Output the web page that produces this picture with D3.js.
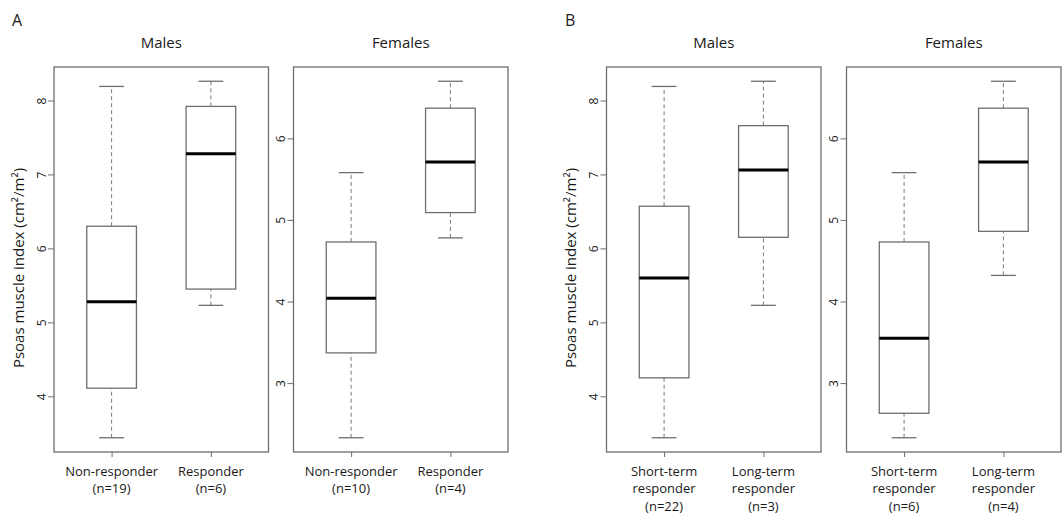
<!DOCTYPE html>
<html>
<head>
<meta charset="utf-8">
<script src="https://cdn.jsdelivr.net/npm/d3@7"></script>
<style>
  body { margin: 0; background: #fff; }
  svg text { font-family: "Open Sans", "Noto Sans", sans-serif; fill: #1a1a1a; }
</style>
</head>
<body>
<div class="chart"></div>
<script>
var width = 1062,
    height = 515;

// box stats: [lower whisker, Q1, median, Q3, upper whisker]
var labelsAMales = [["Non-responder", "(n=19)"], ["Responder", "(n=6)"]];
var statsAMales = [[3.44, 4.11, 5.28, 6.30, 8.19], [5.23, 5.45, 7.28, 7.92, 8.26]];

var labelsAFemales = [["Non-responder", "(n=10)"], ["Responder", "(n=4)"]];
var statsAFemales = [[2.33, 3.37, 4.04, 4.73, 5.58], [4.78, 5.09, 5.71, 6.37, 6.70]];

var labelsBMales = [["Short-term", "responder", "(n=22)"], ["Long-term", "responder", "(n=3)"]];
var statsBMales = [[3.44, 4.25, 5.60, 6.57, 8.19], [5.23, 6.15, 7.06, 7.66, 8.26]];

var labelsBFemales = [["Short-term", "responder", "(n=6)"], ["Long-term", "responder", "(n=4)"]];
var statsBFemales = [[2.33, 2.63, 3.55, 4.73, 5.58], [4.32, 4.86, 5.71, 6.37, 6.70]];

var ticksMales = [4, 5, 6, 7, 8];
var ticksFemales = [3, 4, 5, 6];

var titles = ["Males", "Females", "Males", "Females"];
var panelLetters = ["A", "B"];
var yTitle = "Psoas muscle index (cm\u00b2/m\u00b2)";

var svg = d3.select(".chart").append("svg")
    .attr("width", width)
    .attr("height", height);

var plotTop = 67, plotBottom = 452, frameW = 214.5;

var panels = [
  {left: 54,    stats: statsAMales,    labels: labelsAMales,    ticks: ticksMales,   title: titles[0], ylab: true},
  {left: 293.5, stats: statsAFemales,  labels: labelsAFemales,  ticks: ticksFemales, title: titles[1], ylab: false},
  {left: 606.5, stats: statsBMales,    labels: labelsBMales,    ticks: ticksMales,   title: titles[2], ylab: true},
  {left: 846.5, stats: statsBFemales,  labels: labelsBFemales,  ticks: ticksFemales, title: titles[3], ylab: false}
];

// panel letters
svg.selectAll(".letter")
  .data(panelLetters)
  .enter().append("text")
    .attr("class", "letter")
    .attr("x", function(d, i) { return i == 0 ? 12 : 565; })
    .attr("y", 26)
    .style("font-size", "16px")
    .text(function(d) { return d; });

panels.forEach(function(p) {
  var right = p.left + frameW;

  // R style: xlim 0.5..2.5 extended by 4%
  var x = d3.scaleLinear()
      .domain([0.42, 2.58])
      .range([p.left, right]);

  var lo = d3.min(p.stats, function(s) { return s[0]; }),
      hi = d3.max(p.stats, function(s) { return s[4]; }),
      pad = (hi - lo) * 0.04;
  var y = d3.scaleLinear()
      .domain([lo - pad, hi + pad])
      .range([plotBottom, plotTop]);

  var g = svg.append("g");

  // frame
  g.append("rect")
    .attr("x", p.left).attr("y", plotTop)
    .attr("width", frameW).attr("height", plotBottom - plotTop)
    .attr("fill", "none")
    .attr("stroke", "#6e6e6e")
    .attr("stroke-width", 1.3);

  // title
  g.append("text")
    .attr("x", (p.left + right) / 2)
    .attr("y", 48)
    .attr("text-anchor", "middle")
    .style("font-size", "15px")
    .text(p.title);

  // y axis
  var yAxis = g.append("g")
    .attr("transform", "translate(" + p.left + ",0)")
    .call(d3.axisLeft(y).tickValues(p.ticks).tickSize(6).tickFormat(d3.format("d")));
  yAxis.select(".domain").remove();
  yAxis.selectAll(".tick line").attr("stroke", "#6e6e6e");
  yAxis.selectAll(".tick text")
    .attr("x", 0).attr("dy", null)
    .attr("transform", "translate(-8.5,0) rotate(-90)")
    .attr("text-anchor", "middle")
    .style("font-size", "12px")
    .style("font-family", "'Open Sans', sans-serif")
    .attr("fill", "#1a1a1a");

  if (p.ylab) {
    g.append("text")
      .attr("transform", "translate(" + (p.left - 30.5) + ",268) rotate(-90)")
      .attr("text-anchor", "middle")
      .style("font-size", "15px")
      .text(yTitle);
  }

  // x ticks
  var xAxis = g.append("g")
    .attr("transform", "translate(0," + plotBottom + ")")
    .call(d3.axisBottom(x).tickValues([1, 2]).tickSize(5).tickFormat(""));
  xAxis.select(".domain").remove();
  xAxis.selectAll(".tick line").attr("stroke", "#6e6e6e");

  // x labels
  g.selectAll(".xlab")
    .data(p.labels)
    .enter().append("text")
      .attr("class", "xlab")
      .attr("text-anchor", "middle")
      .style("font-size", "13px")
      .each(function(lines, i) {
        d3.select(this).selectAll("tspan")
          .data(lines)
          .enter().append("tspan")
            .attr("x", x(i + 1))
            .attr("y", function(d, j) { return 475.5 + j * 17.5; })
            .text(function(d) { return d; });
      });

  // boxes
  var box = g.selectAll(".box")
    .data(p.stats)
    .enter().append("g")
      .attr("class", "box");

  // whiskers
  box.append("line")
    .attr("x1", function(d, i) { return x(i + 1); })
    .attr("x2", function(d, i) { return x(i + 1); })
    .attr("y1", function(d) { return y(d[0]); })
    .attr("y2", function(d) { return y(d[1]); })
    .attr("stroke", "#7a7a7a").attr("stroke-dasharray", "4,3");
  box.append("line")
    .attr("x1", function(d, i) { return x(i + 1); })
    .attr("x2", function(d, i) { return x(i + 1); })
    .attr("y1", function(d) { return y(d[3]); })
    .attr("y2", function(d) { return y(d[4]); })
    .attr("stroke", "#7a7a7a").attr("stroke-dasharray", "4,3");

  // caps
  [0, 4].forEach(function(k) {
    box.append("line")
      .attr("x1", function(d, i) { return x(i + 1 - 0.125); })
      .attr("x2", function(d, i) { return x(i + 1 + 0.125); })
      .attr("y1", function(d) { return y(d[k]); })
      .attr("y2", function(d) { return y(d[k]); })
      .attr("stroke", "#6e6e6e").attr("stroke-width", 1.3);
  });

  // box
  box.append("rect")
    .attr("x", function(d, i) { return x(i + 1 - 0.25); })
    .attr("width", x(1.25) - x(0.75))
    .attr("y", function(d) { return y(d[3]); })
    .attr("height", function(d) { return y(d[1]) - y(d[3]); })
    .attr("fill", "#fff")
    .attr("stroke", "#6e6e6e")
    .attr("stroke-width", 1.3);

  // median
  box.append("line")
    .attr("x1", function(d, i) { return x(i + 1 - 0.25); })
    .attr("x2", function(d, i) { return x(i + 1 + 0.25); })
    .attr("y1", function(d) { return y(d[2]); })
    .attr("y2", function(d) { return y(d[2]); })
    .attr("stroke", "#000")
    .attr("stroke-width", 3);
});
</script>
</body>
</html>
